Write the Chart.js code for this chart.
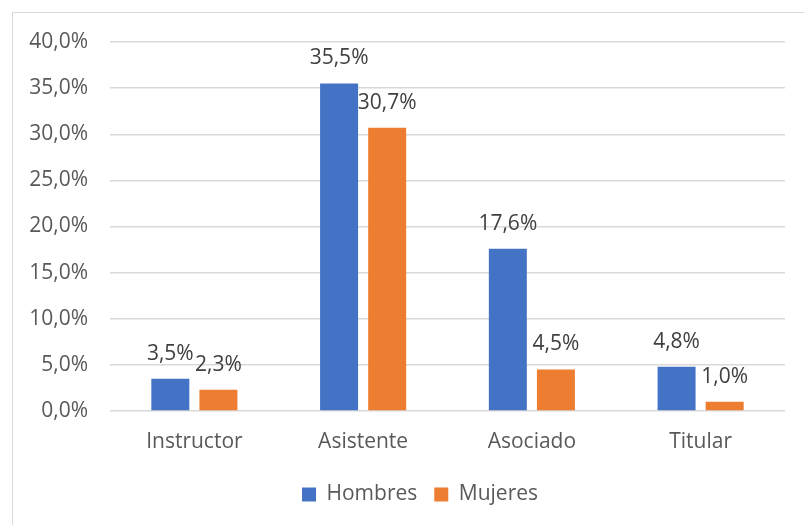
<!DOCTYPE html>
<html>
<head>
<meta charset="utf-8">
<script src="https://cdn.jsdelivr.net/npm/chart.js@4/dist/chart.umd.min.js"></script>
<style>
    body { margin: 0; background: #fff; }
    #marco { position: absolute; left: 12px; top: 12px; width: 900px; height: 600px; border: 1px solid #d9d9d9; }
    #wrap { position: absolute; left: 0; top: 0; width: 804px; height: 525px; }
</style>
</head>
<body>
<div id="marco"></div>
<div id="wrap"><canvas id="barras"></canvas></div>
<script>
var categorias = ["Instructor", "Asistente", "Asociado", "Titular"];
var hombres = [3.5, 35.5, 17.6, 4.8];
var mujeres = [2.3, 30.7, 4.5, 1.0];
var ticksY = [0, 5, 10, 15, 20, 25, 30, 35, 40];

function porcentaje(v) {
    return v.toFixed(1).replace('.', ',') + '%';
}

// etiquetas encima de cada barra
var etiquetas = {
    id: 'etiquetas',
    afterLayout: function(chart) {
        // la leyenda va un poco a la derecha, como en el original
        chart.legend.left = 55;
    },
    afterDatasetsDraw: function(chart) {
        var ctx = chart.ctx;
        ctx.save();
        ctx.font = '21px "Open Sans"';
        ctx.fillStyle = '#404040';
        ctx.textAlign = 'center';
        ctx.textBaseline = 'middle';
        chart.data.datasets.forEach(function(ds, i) {
            chart.getDatasetMeta(i).data.forEach(function(bar, j) {
                ctx.fillText(porcentaje(ds.data[j]), bar.x, bar.y - 25);
            });
        });
        ctx.restore();
    }
};

Chart.defaults.font.family = '"Open Sans"';
Chart.defaults.font.size = 21;
Chart.defaults.color = '#595959';

var barras = document.getElementById("barras");
var myChart = new Chart(barras, {
    type: 'bar',
    data: {
        labels: categorias,
        datasets: [{
            label: "Hombres",
            data: hombres,
            backgroundColor: "#4472C4",
            categoryPercentage: 0.57,
            barPercentage: 0.79
        }, {
            label: "Mujeres",
            data: mujeres,
            backgroundColor: "#ED7D31",
            categoryPercentage: 0.57,
            barPercentage: 0.79
        }]
    },
    options: {
        responsive: true,
        maintainAspectRatio: false,
        animation: false,
        layout: {
            padding: { top: 42, right: 19, bottom: 10, left: 0 }
        },
        scales: {
            x: {
                grid: { display: false },
                border: { display: false },
                ticks: { padding: 10 },
                afterFit: function(s) { s.height = 56; }
            },
            y: {
                min: 0,
                max: 40,
                afterBuildTicks: function(s) {
                    s.ticks = ticksY.map(function(v) { return { value: v }; });
                },
                afterFit: function(s) { s.width = 110; },
                grid: { color: '#d9d9d9', lineWidth: 1.5, drawTicks: false },
                border: { display: false },
                ticks: {
                    padding: 22,
                    callback: function(v) { return porcentaje(v); }
                }
            }
        },
        plugins: {
            legend: {
                position: 'bottom',
                labels: { boxWidth: 14, boxHeight: 14, padding: 17 }
            },
            tooltip: { enabled: false }
        }
    },
    plugins: [etiquetas]
});
</script>
</body>
</html>
